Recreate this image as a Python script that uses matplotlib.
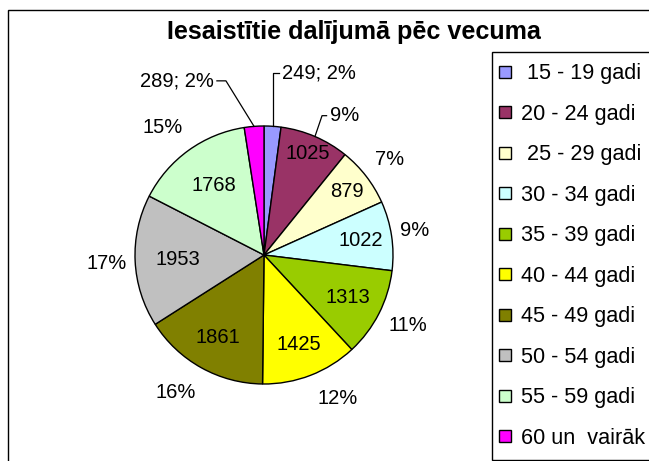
import numpy as np
import matplotlib
matplotlib.use("Agg")
import matplotlib.pyplot as plt
from matplotlib.lines import Line2D
from matplotlib.patches import Rectangle

plt.rcParams["font.family"] = ["Liberation Sans", "DejaVu Sans"]

# ---------------------------------------------------------------------------
# data
# ---------------------------------------------------------------------------
TITLE = "Iesaistītie dalījumā pēc vecuma"
AGE_GROUPS = [" 15 - 19 gadi", "20 - 24 gadi", " 25 - 29 gadi", "30 - 34 gadi",
              "35 - 39 gadi", "40 - 44 gadi", "45 - 49 gadi", "50 - 54 gadi",
              "55 - 59 gadi", "60 un  vairāk gadi"]
COUNTS = [249, 1025, 879, 1022, 1313, 1425, 1861, 1953, 1768, 289]
COLORS = ["#9999FF", "#993366", "#FFFFCC", "#CCFFFF", "#99CC00",
          "#FFFF00", "#808000", "#C0C0C0", "#CCFFCC", "#FF00FF"]

# label placement (style only): radius of inner value label, radius and
# clockwise angle shift of the outer percent label; None -> special leader
INNER_R = [None, 0.86, 0.81, 0.76, 0.73, 0.74, 0.73, 0.67, 0.66, None]
OUTER_R = [None, 1.247, 1.226, 1.186, 1.238, 1.24, 1.256, 1.219, 1.27, None]
OUTER_SHIFT = [0, 7, 0, -1, -1.5, -6.4, 3.9, 0, -2.3, 0]

FS_PIE = 14.5
FS_LEG = 15.6


def main():
    W, H = 649, 461
    fig = plt.figure(figsize=(W / 100, H / 100), dpi=100)
    fig.patch.set_facecolor("white")

    # chart border (runs off the right and bottom edge as in the source)
    fig.add_artist(Rectangle((7.5 / W, -0.1), 1.2, 1.1 - 10 / H,
                             transform=fig.transFigure, fill=False,
                             ec="black", lw=1.0))

    fig.text(354 / W, 1 - 32 / H, TITLE, ha="center", va="center",
             fontsize=18.1, fontweight="bold")

    cx, cy, r = 264, 255, 129
    ax = fig.add_axes([(cx - r) / W, (H - cy - r) / H, 2 * r / W, 2 * r / H])
    wedges, _ = ax.pie(COUNTS, colors=COLORS, startangle=90, counterclock=False,
                       wedgeprops=dict(edgecolor="black", linewidth=1.0))
    ax.set_xlim(-1, 1)
    ax.set_ylim(-1, 1)
    ax.axis("off")

    total = sum(COUNTS)
    pcts = [int(round(v / total * 100)) for v in COUNTS]

    for i, w in enumerate(wedges):
        mid = np.deg2rad((w.theta1 + w.theta2) / 2)
        if INNER_R[i] is not None:
            ri = INNER_R[i]
            ax.text(ri * np.cos(mid), ri * np.sin(mid), str(COUNTS[i]),
                    ha="center", va="center", fontsize=FS_PIE)
        if OUTER_R[i] is not None and i != 1:
            a = mid - np.deg2rad(OUTER_SHIFT[i])
            ro = OUTER_R[i]
            ax.text(ro * np.cos(a), ro * np.sin(a) - 0.012, f"{pcts[i]}%",
                    ha="center", va="center", fontsize=FS_PIE)

    # leader-line labels
    lk = dict(color="black", lw=0.9, clip_on=False)

    # first slice: vertical leader up, short tick to the right
    m0 = np.deg2rad((wedges[0].theta1 + wedges[0].theta2) / 2)
    x0, y0 = np.cos(m0), np.sin(m0)
    ytop = 1.41
    ax.plot([x0, x0, x0 + 0.05], [y0, ytop, ytop], **lk)
    ax.text(x0 + 0.07, ytop, f"{COUNTS[0]}; {pcts[0]}%", ha="left",
            va="center", fontsize=FS_PIE)

    # last slice: diagonal leader up-left, short tick to the left
    m9 = np.deg2rad((wedges[9].theta1 + wedges[9].theta2) / 2)
    x9, y9 = np.cos(m9), np.sin(m9)
    ex, ey = -0.295, 1.35
    ax.plot([x9, ex, ex - 0.07], [y9, ey, ey], **lk)
    ax.text(ex - 0.09, ey, f"{COUNTS[9]}; {pcts[9]}%", ha="right",
            va="center", fontsize=FS_PIE)

    # second slice percent, moved out with a short leader
    m1 = np.deg2rad((wedges[1].theta1 + wedges[1].theta2) / 2)
    x1, y1 = np.cos(m1), np.sin(m1)
    ex, ey = 0.45, 1.08
    ax.plot([x1, ex, ex + 0.035], [y1, ey, ey], **lk)
    ax.text(ex + 0.06, ey, f"{pcts[1]}%", ha="left", va="center",
            fontsize=FS_PIE)

    # legend
    handles = [Line2D([], [], ls="none", marker="s", markersize=8,
                      markerfacecolor=c, markeredgecolor="black",
                      markeredgewidth=1.0) for c in COLORS]
    leg = fig.legend(handles, AGE_GROUPS, loc="upper left",
                     bbox_to_anchor=(492 / W, 1 - 52 / H), borderaxespad=0,
                     fontsize=FS_LEG, frameon=True, fancybox=False,
                     edgecolor="black", framealpha=1, borderpad=0.53,
                     labelspacing=0.9, handlelength=0.15, handletextpad=0.66)
    leg.get_frame().set_linewidth(1.0)

    fig.savefig("out.png", dpi=100)
    plt.close(fig)


if __name__ == "__main__":
    main()
